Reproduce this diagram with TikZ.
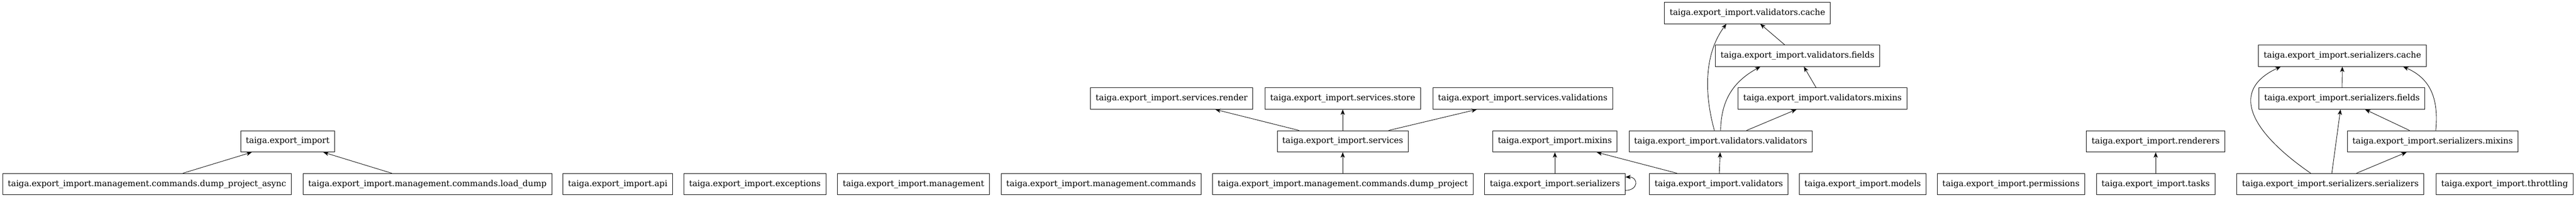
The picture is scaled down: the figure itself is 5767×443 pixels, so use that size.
\documentclass[tikz,border=0pt]{standalone}
\usepackage{fontspec}
\setmainfont{DejaVu Serif}
\usetikzlibrary{arrows.meta,calc}
\begin{document}
\begin{tikzpicture}[x=0.75pt,y=-0.75pt,
    mod/.style={draw,line width=0.75pt,minimum height=36pt,inner xsep=8.6pt,
      font=\fontsize{14pt}{16pt}\selectfont},
    dep/.style={-{Stealth[length=9pt,width=7pt,inset=2.5pt]},line width=0.75pt}]
      \useasboundingbox (0,0) rectangle (5767,443);
      \draw
        (644,317) node[mod] (imp){taiga.export\_import}
        (329,413) node[mod] (async){taiga.export\_import.management.commands.dump\_project\_async}
        (957,413) node[mod] (load){taiga.export\_import.management.commands.load\_dump}
        (1383,413) node[mod] (api){taiga.export\_import.api}
        (1690,413) node[mod] (exc){taiga.export\_import.exceptions}
        (2045,413) node[mod] (mgmt){taiga.export\_import.management}
        (2465,413) node[mod] (cmds){taiga.export\_import.management.commands}
        (3006,413) node[mod] (dproj){taiga.export\_import.management.commands.dump\_project}
        (3006,317) node[mod] (svc){taiga.export\_import.services}
        (2623,221) node[mod] (srender){taiga.export\_import.services.render}
        (3006,221) node[mod] (sstore){taiga.export\_import.services.store}
        (3409,221) node[mod] (svalid){taiga.export\_import.services.validations}
        (3481,413) node[mod] (ser){taiga.export\_import.serializers}
        (3481,317) node[mod] (mixins){taiga.export\_import.mixins}
        (3848,413) node[mod] (val){taiga.export\_import.validators}
        (3852,317) node[mod] (valval){taiga.export\_import.validators.validators}
        (4080,221) node[mod] (valmix){taiga.export\_import.validators.mixins}
        (4024,125) node[mod] (valfields){taiga.export\_import.validators.fields}
        (3912,29) node[mod] (valcache){taiga.export\_import.validators.cache}
        (4170,413) node[mod] (models){taiga.export\_import.models}
        (4502,413) node[mod] (perms){taiga.export\_import.permissions}
        (4826,413) node[mod] (tasks){taiga.export\_import.tasks}
        (4826,317) node[mod] (rend){taiga.export\_import.renderers}
        (5217,413) node[mod] (sersers){taiga.export\_import.serializers.serializers}
        (5446,317) node[mod] (sermix){taiga.export\_import.serializers.mixins}
        (5243,221) node[mod] (serfields){taiga.export\_import.serializers.fields}
        (5244,125) node[mod] (sercache){taiga.export\_import.serializers.cache}
        (5607,413) node[mod] (throt){taiga.export\_import.throttling};
      \begin{scope}[dep]
        \draw (async) to (imp);
        \draw (load) to (imp);
        \draw (dproj) to (svc);
        \draw (svc) to (srender);
        \draw (svc) to (sstore);
        \draw (svc) to (svalid);
        \draw (ser) to (mixins);
        \draw ($(ser.east)+(0,14)$) .. controls +(30,0) and +(30,0) .. ($(ser.east)+(0,-16)$);
        \draw (val) to (mixins);
        \draw (val) to (valval);
        \draw (valval) to (valmix);
        \draw (valval.north) .. controls +(1,-73) and +(-56,31) .. ($(valfields.south)+(-83,0)$);
        \draw ($(valval.north)+(-14,0)$) .. controls +(-23,-83) and +(-50,67) .. ($(valcache.south)+(-47,0)$);
        \draw (valmix) to (valfields);
        \draw (valfields) to (valcache);
        \draw (tasks) to (rend);
        \draw ($(sersers.north)+(-44,0)$) .. controls +(-143,-99) and +(-111,51) .. ($(sercache.south)+(-138,0)$);
        \draw (sersers) to (serfields);
        \draw (sersers) to (sermix);
        \draw (sermix) to (serfields);
        \draw ($(sermix.north)+(7,0)$) .. controls +(7,-73) and +(60,26) .. ($(sercache.south)+(136,0)$);
        \draw (serfields) to (sercache);
      \end{scope}
    \end{tikzpicture}
\end{document}
